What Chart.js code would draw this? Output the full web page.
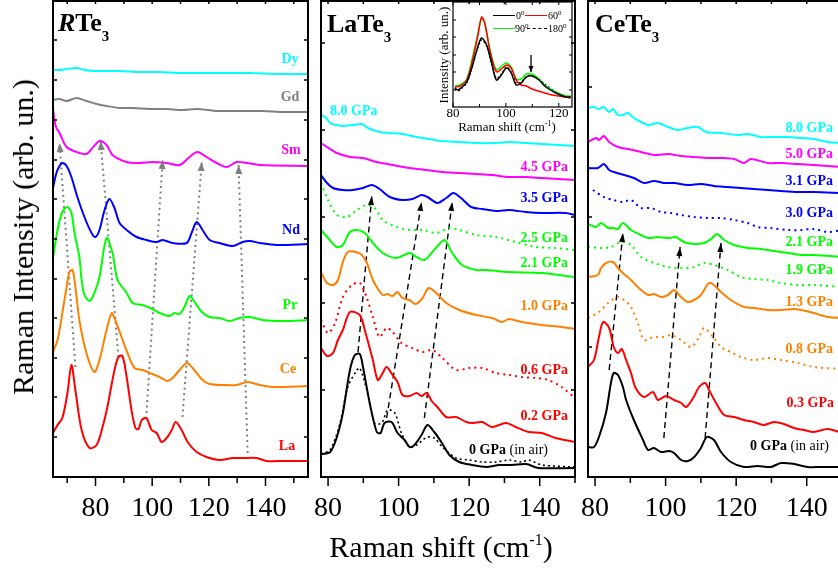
<!DOCTYPE html>
<html><head><meta charset="utf-8">
<script src="https://cdn.jsdelivr.net/npm/chart.js"></script>
<style>
html,body{margin:0;padding:0;background:#fff;overflow:hidden}
#wrap{position:relative;width:838px;height:569px;overflow:hidden;font-family:"Liberation Serif","Times New Roman",serif;background:#fff}
canvas{position:absolute;left:0;top:0}
.t{position:absolute;line-height:1;white-space:nowrap;font-weight:bold;font-size:14px}
.c{transform:translate(-50%,-50%)}
.r{transform:translate(-100%,-50%)}
.l{transform:translateY(-50%)}
.ttl{position:absolute;line-height:1;white-space:nowrap;font-weight:bold;font-size:26px;color:#000}
.ttl span{font-size:15px;vertical-align:-10px}
.ax{position:absolute;line-height:1;white-space:nowrap;font-size:30px;color:#000}
.ax sup{font-size:16px;vertical-align:12px}
.in{position:absolute;line-height:1;white-space:nowrap;font-size:13px;color:#000}
.in sup{font-size:8px;vertical-align:5px}
.lg{position:absolute;line-height:1;white-space:nowrap;font-size:10px;color:#000;transform:translateY(-50%)}
.lg sup{font-size:7px;vertical-align:4px}
.ln{position:absolute;width:22px;height:0}
</style></head>
<body>
<div id="wrap">
<canvas id="cR" width="838" height="569"></canvas>
<canvas id="cL" width="838" height="569"></canvas>
<canvas id="cC" width="850" height="569"></canvas>
<canvas id="cI" width="838" height="569"></canvas>

<div class="ttl" style="left:58px;top:10px"><i>R</i>Te<span>3</span></div>
<div class="ttl" style="left:327px;top:11px">LaTe<span>3</span></div>
<div class="ttl" style="left:595px;top:11px">CeTe<span>3</span></div>

<div class="t c" style="left:290px;top:59px;color:#00ffff">Dy</div>
<div class="t c" style="left:290px;top:97px;color:#808080">Gd</div>
<div class="t c" style="left:291px;top:150px;color:#ff00ff">Sm</div>
<div class="t c" style="left:291px;top:230px;color:#0000ff">Nd</div>
<div class="t c" style="left:290px;top:305px;color:#00ff00">Pr</div>
<div class="t c" style="left:288px;top:369px;color:#ff8000">Ce</div>
<div class="t c" style="left:287px;top:446px;color:#ff0000">La</div>

<div class="t l" style="left:330px;top:111px;color:#00ffff">8.0 GPa</div>
<div class="t r" style="left:568px;top:167px;color:#ff00ff">4.5 GPa</div>
<div class="t r" style="left:568px;top:198px;color:#0000ff">3.5 GPa</div>
<div class="t r" style="left:568px;top:238px;color:#00ff00">2.5 GPa</div>
<div class="t r" style="left:568px;top:263px;color:#00ff00">2.1 GPa</div>
<div class="t r" style="left:568px;top:306px;color:#ff8000">1.0 GPa</div>
<div class="t r" style="left:568px;top:370px;color:#ff0000">0.6 GPa</div>
<div class="t r" style="left:568px;top:416px;color:#ff0000">0.2 GPa</div>
<div class="t r" style="left:548px;top:450px;color:#000">0 GPa <span style="font-weight:normal">(in air)</span></div>

<div class="t r" style="left:833px;top:128px;color:#00ffff">8.0 GPa</div>
<div class="t r" style="left:833px;top:154px;color:#ff00ff">5.0 GPa</div>
<div class="t r" style="left:833px;top:181px;color:#0000ff">3.1 GPa</div>
<div class="t r" style="left:833px;top:213px;color:#0000ff">3.0 GPa</div>
<div class="t r" style="left:833px;top:242px;color:#00ff00">2.1 GPa</div>
<div class="t r" style="left:833px;top:270px;color:#00ff00">1.9 GPa</div>
<div class="t r" style="left:833px;top:302px;color:#ff8000">1.3 GPa</div>
<div class="t r" style="left:833px;top:349px;color:#ff8000">0.8 GPa</div>
<div class="t r" style="left:834px;top:403px;color:#ff0000">0.3 GPa</div>
<div class="t r" style="left:829px;top:446px;color:#000">0 GPa <span style="font-weight:normal">(in air)</span></div>

<div class="ax" style="left:441px;top:547px;transform:translate(-50%,-50%)">Raman shift (cm<sup>-1</sup>)</div>
<div class="ax" style="left:23px;top:237px;transform:translate(-50%,-50%) rotate(-90deg)">Raman Intensity (arb. un.)</div>

<div class="in" style="left:507px;top:126px;transform:translate(-50%,-50%)">Raman shift (cm<sup>-1</sup>)</div>
<div class="in" style="left:443px;top:55px;transform:translate(-50%,-50%) rotate(-90deg)">Intensity (arb. un.)</div>

<div class="ln" style="left:493px;top:15px;border-top:1.5px solid #000"></div>
<div class="lg" style="left:516px;top:15px">0<sup>0</sup></div>
<div class="ln" style="left:525px;top:15px;border-top:1.5px solid #ff0000"></div>
<div class="lg" style="left:548px;top:15px">60<sup>0</sup></div>
<div class="ln" style="left:493px;top:28px;border-top:1.5px solid #00ff00"></div>
<div class="lg" style="left:515px;top:28px">90<sup>0</sup></div>
<div class="ln" style="left:527px;top:28px;width:20px;border-top:1.5px dashed #000"></div>
<div class="lg" style="left:548px;top:28px">180<sup>0</sup></div>
</div>

<script>
// ---------------- RTe3 panel ----------------
const rteXTicks = [80, 100, 120, 140];
const rteYTicks = [40, 80, 119, 159, 198, 238, 278, 317, 357, 397, 437];
const dyX = [65,67.3,69.8,73.3,76.1,79.6,84,88.5,95,102.6,110,116.7,125,134.4,145,155];
const dyY = [407,407,408,409,407,406,406,406,405,405,404,404,404,404,403,403];
const gdX = [65,67.3,69.8,73.3,76.8,80.4,83.9,88.5,93.1,99.1,105.1,110.7,115.7,122.8,128.4,139,146.1,155];
const gdY = [377,378,376,379,376,373,371,369,369,368,368,367,368,366,366,366,365,365];
const smX = [65,65.5,66.2,67.3,69.8,73.3,76.8,78.9,81.4,83.9,86,91,95.5,100.1,105.1,109.7,113.2,116,119.2,122.8,126.3,129.8,133.4,138,155];
const smY = [369,357,349,344,330,325,323,329,336,332,322,315,314,315,314,312,320,325,320,314,310,315,314,312,311];
const ndX = [65,66.2,67.3,68.3,69.8,71.5,73.6,76.1,78.6,80,81.4,83.2,84.9,86.7,88.5,91,94.5,98,101.6,103.7,107.2,112.2,113.9,115.7,117.8,120.3,123.8,128.4,131.9,134.4,138,144,155];
const ndY = [289,304,311,314,311,300,280,260,244,240,247,267,278,269,254,247,240,237,235,237,234,234,244,255,247,237,234,231,235,236,234,232,233];
const prX = [65,66.6,68.3,70.1,71.5,72.6,74.3,75.1,76.1,77.9,79.6,81.4,83.9,86,87.8,91,93.1,96.6,100.1,102.6,106.1,107.9,109.7,111.4,113.2,115,117.5,120.3,123.8,127.3,130.9,134.4,139,146.1,155];
const prY = [219,247,265,270,264,244,220,197,182,176,184,200,239,224,197,184,174,172,168,164,161,164,163,170,181,175,165,160,159,156,159,160,157,156,157];
const ceX = [65,66.6,68.3,69.8,70.8,71.9,72.9,74.3,76.8,79.6,81.4,83.9,85.7,86.7,89.2,91.3,93.8,96.6,100.1,102.6,105.4,107.2,109.7,112.2,114.3,117.8,120.3,124.9,129.8,133.7,138,142.5,155];
const ceY = [125,137,164,190,205,207,190,157,124,105,117,147,164,159,140,124,109,107,103,100,96,99,107,114,109,97,93,92,92,95,92,90,91];
const laX = [65,66.6,68.3,70.1,71.5,72.9,75.1,77.9,80.4,82.5,84.2,86.7,88.1,89.5,91,92.7,94.1,95.2,96.3,98,99.8,101.6,103.3,105.1,106.9,108.3,110.4,112.5,115.7,119.2,123.8,128.4,131.9,136.9,140.4,146.1,155];
const laY = [44,52,59,84,112,87,47,29,32,50,70,107,120,121,100,67,49,48,57,59,47,44,35,39,47,55,47,35,25,20,17,19,19,19,16,16,16];
const rteArrFromX = [72.9, 88.1, 98, 110.7, 133.7];
const rteArrFromY = [110, 120, 64, 60, 24];
const rteArrToX = [67.3, 81.8, 103.7, 117.5, 130.5];
const rteArrToY = [334, 336, 317, 315, 312];

// ---------------- LaTe3 panel ----------------
const pXTicks = [80, 100, 120, 140];
const laTeYTicks = [87, 174, 260, 347, 434];
const l80X = [78,79.2,80.6,82.5,84.2,87,89.6,91.3,94.6,97.5,101.1,105.1,108.7,112.4,117.2,122,127.6,131.3,136.1,140.6,145.4,150];
const l80Y = [362,360,354,352,351,352,353,349,345,344,343,340,338,336,335,334,334,335,334,333,332,331];
const l45X = [78,79.7,82.5,86.2,89.9,93.8,98.3,103.1,107.9,112.4,117.2,122,126.5,131.3,136.1,140.6,150];
const l45Y = [334,330,324,320,319,315,312,309,307,305,304,303,302,300,300,299,297];
const l35X = [78,79.7,81.4,84.2,87,89.9,92.4,94.6,97.5,101.1,103.9,106.5,108.2,111,113.5,115.5,117.7,120.6,123.7,127.6,131.3,136.1,140.6,147.3,150];
const l35Y = [302,294,289,287,287,289,292,288,280,277,278,282,280,274,279,284,279,270,268,266,267,265,264,264,262];
const l25X = [78,80,82.5,85.4,88.2,91,93.2,95.5,99.4,103.1,106.8,110.7,114.4,117.2,122,127.6,133.2,138.9,144.5,150];
const l25Y = [294,277,262,260,267,272,269,257,250,247,247,244,249,247,242,240,235,230,229,227];
const l21X = [78,80,82.5,84.2,86.2,88.2,90.4,92.7,95.5,99.4,103.1,105.1,107.3,110.1,113,115.2,118,122,124.8,131.3,140.6,150];
const l21Y = [247,239,230,232,245,247,244,234,224,219,224,220,217,227,237,224,212,207,207,205,204,200];
const l10X = [78,79.7,81.4,82.8,84.2,85.6,87.9,89.6,91,92.7,93.8,95.5,96.9,98.3,99.7,101.1,103.1,104.8,106.8,108.5,110.7,113.5,117.2,122,126.5,129.3,131.3,134.9,140.6,146.2,150];
const l10Y = [205,194,192,197,215,225,225,222,214,197,190,182,183,181,185,179,177,173,179,189,184,174,167,162,159,155,158,155,152,150,148];
const l06X = [78,80,82,84.2,86.8,89,91,92.7,94.6,96.6,98.3,100.8,103.9,106.8,109.6,112.4,116.3,120,123.7,127.6,131.3,134.9,138.9,142.5,146.2,150];
const l06Y = [157,144,154,180,192,194,179,160,140,149,145,134,129,125,127,119,107,109,109,104,102,100,99,97,90,79];
const l02X = [78,79.7,81.4,82.8,84.2,86.2,89,90.4,92.7,94.1,95.5,96.6,98.3,99.7,101.1,103.1,105.1,106.5,107.9,109.6,111,113.5,116.3,119.2,120.8,123.7,126.5,130.4,133.2,136.9,140.6,144.5,150];
const l02Y = [129,121,124,137,147,165,162,147,117,97,104,110,102,95,82,81,84,81,84,75,70,60,60,55,54,55,50,54,50,45,44,39,35];
const l00X = [78,80.6,82.5,84.2,86.2,87.6,89,89.9,91.8,93.8,94.9,96,98,99.7,101.7,103.1,104.5,106.5,108.2,110.1,112.1,114.4,117.2,120.8,124.8,128.5,132.1,136.1,139.7,150];
const l00Y = [23,25,40,64,107,122,123,110,74,45,44,54,55,44,37,30,32,42,52,45,35,22,15,12,10,12,12,13,9,9];
const l00dX = [78,80.6,83.4,85.6,88.2,89,91,93.2,95.2,96.9,98.9,100.8,103.1,105.1,106.8,108.2,110.1,112.4,116.3,120,123.7,127.6,131.3,134.9,136.9,140.6,150];
const l00dY = [23,27,54,90,107,109,87,54,54,67,64,44,30,32,37,40,39,30,19,17,15,15,17,15,17,12,10];
const laArrFromX = [88.5, 96.6, 107.3];
const laArrFromY = [125, 59, 59];
const laArrToX = [92.4, 106.5, 115.2];
const laArrToY = [281, 275, 275];

// ---------------- CeTe3 panel ----------------
const ceTeYTicks = [130, 260, 390];
const c80X = [78,79.7,81.1,82.5,84,85.1,86.5,87.9,89.3,91,95,97.8,100.7,103.5,106.3,109.2,111.4,115.7,120.5,123.3,127,130.7,134.7,138.4,142,146,150];
const c80Y = [369,370,368,370,365,368,362,362,364,359,352,354,350,347,349,350,345,344,342,343,340,340,340,339,338,335,334];
const c50X = [78,80.3,81.1,82.5,84,86.5,89.3,93,96.7,100.7,104.4,108.1,112,115.7,119.4,122.2,124.2,129,132.7,137.5,142,150];
const c50Y = [335,339,337,341,335,330,328,325,322,323,321,320,319,319,318,314,318,314,314,313,312,310];
const c31X = [78,80.8,82.5,84,85.3,88.2,91,93.9,96.7,99.6,102.4,106.3,110,113.7,117.6,121.3,125,129,132.7,137.5,142,150];
const c31Y = [309,309,313,307,305,302,299,294,296,294,294,292,293,291,290,289,288,287,286,285,285,284];
const c30X = [79.4,82.5,85.3,87.9,90.2,93,95.8,98.7,101.5,104.4,108.1,112,115.7,119.4,123.3,126.1,129.8,134.7,138.4,142,146,150];
const c30Y = [287,280,277,275,277,269,269,265,264,262,260,259,259,257,254,250,249,247,247,248,245,247];
const c21X = [78,80.3,81.7,83.7,85.1,86.5,87.9,90.2,93,95,97.8,100.7,102.9,105.2,108.1,110.9,112.9,114.6,116.6,119.4,123.3,127,130.7,134.7,138.4,142,150];
const c21Y = [253,250,254,249,249,248,254,247,242,239,240,239,240,235,233,234,238,243,237,232,229,228,226,224,222,222,220];
const c19X = [78,81.7,84.5,87.3,90.2,93,96.7,100.7,104.4,108.1,110.9,113.7,117.6,121.3,125,129,132.7,137.5,142,150];
const c19Y = [230,229,230,235,232,220,214,210,209,210,214,212,207,200,198,197,194,192,192,190];
const c13X = [78,80.8,81.7,83.1,85.1,86.5,88.2,90.2,92.4,95,96.7,98.7,100.7,102.4,104.4,106.3,108.1,110,112.3,113.7,115.7,118.5,122.2,125,129,132.7,136.4,138.4,142,146,150];
const c13Y = [200,202,209,214,215,209,203,197,189,182,183,180,182,187,180,175,177,182,194,192,185,177,170,169,167,167,168,167,164,160,159];
const c08X = [78,81.1,83.7,86.5,88.2,90.2,92.1,93.9,96.7,99.6,101.5,104.4,107.2,109.5,110.9,113.5,115.7,118.5,121.3,125,129,132.7,137.5,142,150];
const c08Y = [159,165,174,180,177,170,154,137,140,140,142,137,130,140,149,140,130,125,120,117,119,117,114,110,108];
const c03X = [78,79.7,81.1,82.3,84,85.3,86.5,87.6,88.8,90.2,91.5,93.9,96.4,97.8,100.1,102.4,104.4,105.8,107.8,109.5,111.2,112.3,114.3,116.6,119.4,122.2,125,127.8,130.7,133.5,136.4,139.2,142,146,150];
const c03Y = [110,117,140,155,149,130,124,128,117,104,89,80,85,77,81,77,74,70,79,90,94,87,74,62,60,57,55,52,55,53,49,47,45,48,44];
const c00X = [78,79.7,81.1,83.1,84.5,85.3,86.5,87.9,88.8,91,93.6,95,96.7,98.7,101,102.4,104.4,106.3,108.1,110,111.7,113.7,115.7,118.5,122.2,126.1,129.8,132.7,136.4,140.3,144,150];
const c00Y = [30,30,40,64,94,104,102,90,77,57,37,27,29,25,26,24,17,16,20,29,40,37,25,15,10,11,10,14,13,10,10,10];
const ceArrFromX = [84, 99.5, 111.2];
const ceArrFromY = [107, 39, 39];
const ceArrToX = [87.9, 104.1, 115.7];
const ceArrToY = [244, 230, 234];

// ---------------- Inset (polarization) ----------------
const insXTicks = [80, 100, 120];
const insYTicks = [17, 35, 52, 70, 87];
const a0X = [80.7,81.9,83.4,85.2,87.1,89,90.8,92.7,94.6,96.4,98.3,100.2,102,103.9,105.8,107.7,109.9,112.5,115.1,118.9,122.6,124.5];
const a0Y = [19,17,20,25,39,57,69,62,44,27,32,39,34,22,24,30,31,27,20,14,10,10];
const a60X = [80.7,82.6,85.2,87.4,89.3,90.8,92,93.9,95.7,96.8,98.7,100.2,102,103.9,105.8,107.7,109.9,113.6,117.4,122.6,124.5];
const a60Y = [20,21,27,47,70,90,84,57,39,35,39,42,39,27,22,21,18,15,12,10,9];
const a90X = [80.7,82.6,85.2,87.4,89.3,90.8,92,93.9,95.7,96.8,98.7,100.2,102,103.9,105.8,107.7,109.9,112.5,115.1,118.9,122.6,124.5];
const a90Y = [21,22,28,50,72,88,84,58,41,37,42,44,40,28,28,33,33,28,21,15,11,11];
const a180X = [80.7,81.9,83.4,85.2,87.1,89,90.8,92.7,94.6,96.4,98.3,100.2,102,103.9,105.8,107.7,109.9,112.5,115.1,118.9,122.6,124.5];
const a180Y = [18,16,19,24,38,56,67,61,44,29,33,40,35,24,25,30,32,28,22,15,11,10];
const insArrX = [109.5, 109.5];
const insArrY = [52, 35];

// ---------------- helpers ----------------
const SERIF = "'Liberation Serif','Times New Roman',serif";
function pts(xs, ys) { return xs.map((x, i) => ({x: x, y: ys[i]})); }
function curve(xs, ys, color, extra) {
  return Object.assign({data: pts(xs, ys), borderColor: color, borderWidth: 2, pointRadius: 0,
    tension: 0.3, fill: false, borderJoinStyle: 'round'}, extra || {});
}
const DOTTED = {borderDash: [2, 4]};
function arrowSets(fx, fy, tx, ty, color, dash, width, head) {
  return fx.map((_, i) => ({data: [{x: fx[i], y: fy[i]}, {x: tx[i], y: ty[i]}], borderColor: color,
    borderWidth: width, borderDash: dash, pointRadius: 0, tension: 0, fill: false, arrowHead: head}));
}

const framePlugin = {
  id: 'frame',
  afterDatasetsDraw(chart, args, o) {
    const ctx = chart.ctx, a = chart.chartArea, x = chart.scales.x, y = chart.scales.y;
    ctx.save();
    ctx.strokeStyle = '#000';
    ctx.lineWidth = o.lw;
    ctx.strokeRect(a.left, a.top, a.right - a.left, a.bottom - a.top);
    ctx.lineWidth = o.tw;
    ctx.beginPath();
    for (let v = Math.ceil(x.min / o.xStep) * o.xStep; v <= x.max; v += o.xStep) {
      const px = x.getPixelForValue(v);
      const major = Math.abs(v % o.majorStep) < 1e-6;
      const len = major ? o.tlMajor : o.tlMinor;
      ctx.moveTo(px, a.bottom); ctx.lineTo(px, a.bottom + (o.bottomOut ? len : -len));
      ctx.moveTo(px, a.top); ctx.lineTo(px, a.top + o.tlTop);
    }
    o.yTicks.forEach(v => {
      const py = y.getPixelForValue(v);
      ctx.moveTo(a.left, py); ctx.lineTo(a.left + o.tl, py);
      if (o.rightTicks) { ctx.moveTo(a.right, py); ctx.lineTo(a.right - o.tl, py); }
    });
    ctx.stroke();
    ctx.restore();
  }
};
const arrowPlugin = {
  id: 'arrowHeads',
  afterDatasetsDraw(chart) {
    const ctx = chart.ctx;
    chart.data.datasets.forEach((ds, i) => {
      if (!ds.arrowHead) return;
      const p = chart.getDatasetMeta(i).data;
      const p0 = p[p.length - 2], p1 = p[p.length - 1];
      const ang = Math.atan2(p1.y - p0.y, p1.x - p0.x);
      ctx.save();
      ctx.translate(p1.x, p1.y); ctx.rotate(ang);
      ctx.beginPath();
      ctx.moveTo(0, 0); ctx.lineTo(-ds.arrowHead.len, ds.arrowHead.wid / 2);
      ctx.lineTo(-ds.arrowHead.len, -ds.arrowHead.wid / 2); ctx.closePath();
      ctx.fillStyle = ds.borderColor; ctx.fill();
      ctx.restore();
    });
  }
};

function makePanel(id, datasets, c) {
  return new Chart(document.getElementById(id), {
    type: 'line',
    data: {datasets: datasets},
    options: {
      responsive: false, animation: false, events: [],
      layout: {padding: c.pad},
      plugins: {legend: {display: false}, tooltip: {enabled: false}, frame: c.frame},
      scales: {
        x: {type: 'linear', min: c.xMin, max: c.xMax,
          grid: {display: false, drawTicks: false}, border: {display: false},
          afterBuildTicks: s => { s.ticks = c.xTicks.map(v => ({value: v})); },
          afterFit: s => { s.height = c.axisH; },
          ticks: {font: {family: SERIF, size: c.tickSize, lineHeight: 1}, color: '#000',
            padding: c.tickPad, maxRotation: 0, autoSkip: false}},
        y: {type: 'linear', display: false, min: 0, max: c.yMax}
      }
    },
    plugins: [framePlugin, arrowPlugin]
  });
}

const mainFrame = (yt, right) => ({lw: 2, tw: 1.5, tl: 4, tlMajor: 9, tlMinor: 6, tlTop: 3,
  xStep: 10, majorStep: 20, bottomOut: true, yTicks: yt, rightTicks: right});

// RTe3
makePanel('cR', [
  curve(dyX, dyY, '#00ffff'),
  curve(gdX, gdY, '#808080'),
  curve(smX, smY, '#ff00ff'),
  curve(ndX, ndY, '#0000ff'),
  curve(prX, prY, '#00ff00'),
  curve(ceX, ceY, '#ff8000'),
  curve(laX, laY, '#ff0000'),
  ...arrowSets(rteArrFromX, rteArrFromY, rteArrToX, rteArrToY, '#808080', [2, 3.5], 2, {len: 9, wid: 7})
], {pad: {left: 53, right: 530, top: 1, bottom: 52}, axisH: 40, xMin: 65, xMax: 155, xTicks: rteXTicks,
    yMax: 476, tickSize: 28, tickPad: 18, frame: mainFrame(rteYTicks, true)});

// LaTe3
makePanel('cL', [
  curve(l80X, l80Y, '#00ffff'),
  curve(l45X, l45Y, '#ff00ff'),
  curve(l35X, l35Y, '#0000ff'),
  curve(l25X, l25Y, '#00ff00', DOTTED),
  curve(l21X, l21Y, '#00ff00'),
  curve(l10X, l10Y, '#ff8000'),
  curve(l06X, l06Y, '#ff0000', DOTTED),
  curve(l02X, l02Y, '#ff0000'),
  curve(l00dX, l00dY, '#000000', {borderDash: [2, 3], borderWidth: 1.6}),
  curve(l00X, l00Y, '#000000'),
  ...arrowSets(laArrFromX, laArrFromY, laArrToX, laArrToY, '#000000', [6, 4], 1.4, {len: 9, wid: 6})
], {pad: {left: 321, right: 263, top: 1, bottom: 52}, axisH: 40, xMin: 78, xMax: 150, xTicks: pXTicks,
    yMax: 476, tickSize: 28, tickPad: 18, frame: mainFrame(laTeYTicks, true)});

// CeTe3
makePanel('cC', [
  curve(c80X, c80Y, '#00ffff'),
  curve(c50X, c50Y, '#ff00ff'),
  curve(c31X, c31Y, '#0000ff'),
  curve(c30X, c30Y, '#0000ff', DOTTED),
  curve(c21X, c21Y, '#00ff00'),
  curve(c19X, c19Y, '#00ff00', DOTTED),
  curve(c13X, c13Y, '#ff8000'),
  curve(c08X, c08Y, '#ff8000', DOTTED),
  curve(c03X, c03Y, '#ff0000'),
  curve(c00X, c00Y, '#000000'),
  ...arrowSets(ceArrFromX, ceArrFromY, ceArrToX, ceArrToY, '#000000', [6, 4], 1.4, {len: 9, wid: 6})
], {pad: {left: 588, right: 8, top: 1, bottom: 52}, axisH: 40, xMin: 78, xMax: 150, xTicks: pXTicks,
    yMax: 476, tickSize: 28, tickPad: 18, frame: mainFrame(ceTeYTicks, false)});

// Inset
makePanel('cI', [
  curve(a0X, a0Y, '#000000', {borderWidth: 1.5}),
  curve(a60X, a60Y, '#ff0000', {borderWidth: 1.5}),
  curve(a90X, a90Y, '#00ff00', {borderWidth: 1.5}),
  curve(a180X, a180Y, '#000000', {borderWidth: 1.3, borderDash: [2, 2]}),
  ...arrowSets([insArrX[0]], [insArrY[0]], [insArrX[1]], [insArrY[1]], '#000000', [], 1.3, {len: 6, wid: 5})
], {pad: {left: 453, right: 266, top: 2, bottom: 444}, axisH: 18, xMin: 80, xMax: 125, xTicks: insXTicks,
    yMax: 105, tickSize: 13, tickPad: 0,
    frame: {lw: 1.2, tw: 1, tl: 3, tlMajor: 4, tlMinor: 3, tlTop: 3, xStep: 10, majorStep: 20,
      bottomOut: false, yTicks: insYTicks, rightTicks: true}});
</script>
</body></html>
